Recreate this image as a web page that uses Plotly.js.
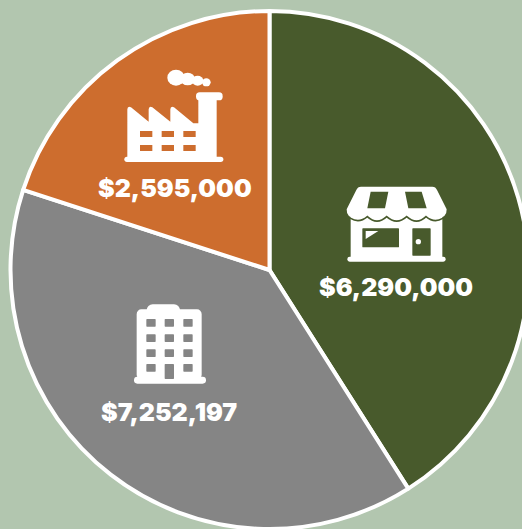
<!DOCTYPE html>
<html>
<head>
<meta charset="utf-8">
<script src="https://cdn.plot.ly/plotly-3.0.1.min.js"></script>
<style>html,body{margin:0;padding:0;width:522px;height:529px;overflow:hidden;background:#B2C6AF}</style>
</head>
<body>
<div id="chart"></div>
<script>
// Slice shares as drawn in the picture (percent of the circle), clockwise from 12 o'clock
const categories = ["Retail", "Office", "Industrial"];
const sliceShares = [41.0, 39.0, 20.0];
const amountLabels = ["$6,290,000", "$7,252,197", "$2,595,000"];
const sliceColors = ["#485A2C", "#858585", "#CD6D2E"];

const W = 540, H = 529;
const BG = "#B2C6AF";
const fx = p => p / W, fy = p => 1 - p / H;

function svg(w, h, body) {
  const s = `<svg xmlns="http://www.w3.org/2000/svg" viewBox="0 0 ${w} ${h}" width="${w}" height="${h}">${body}</svg>`;
  return "data:image/svg+xml;charset=utf-8," + encodeURIComponent(s);
}
const storeIcon = svg(375, 270, (() => {
  const G = sliceColors[0];
  return `<path fill="#fff" d="M78,35 H292 Q302,35 306,45 L335,103 Q336,130 305,130 Q285,130 275,122 Q245,146 215,122 Q185,146 155,122 Q126,146 97,122 Q85,130 64,130 Q34,130 35,103 L64,45 Q68,35 78,35Z"/>
  <path fill="#fff" d="M47,118 H322 V248 H47Z"/>
  <rect x="37" y="245" width="295" height="15" rx="7" fill="#fff"/>
  <path fill="${G}" d="M107,50 H160 L150,100 H97Z M210,50 H260 L275,100 H220Z"/>
  <path fill="none" stroke="${G}" stroke-width="5" stroke-linecap="round" d="M47,130 Q72,146 97,125 Q126,152 155,125 Q185,152 215,125 Q245,152 273,125 Q298,146 323,130"/>
  <rect x="82" y="160" width="110" height="57" rx="2" fill="${G}"/>
  <path fill="#fff" d="M92,168 H130 L92,192Z"/>
  <rect x="232" y="160" width="55" height="82" rx="2" fill="${G}"/>
  <circle cx="250" cy="200" r="8" fill="#fff"/>`;
})());
const factoryIcon = svg(360, 330, (() => {
  const O = sliceColors[2];
  const wins = [75, 140, 205].flatMap(x => [213, 255].map(y => `<rect x="${x}" y="${y}" width="37" height="18" fill="${O}"/>`)).join("");
  return `<g fill="#fff"><ellipse cx="183" cy="53" rx="26" ry="24"/><ellipse cx="218" cy="57" rx="22" ry="19"/><ellipse cx="248" cy="62" rx="17" ry="15"/><ellipse cx="274" cy="67" rx="13" ry="12"/>
  <path d="M37,295 V148 Q38,136 48,142 L101,185 V148 Q102,136 112,142 L166,185 V148 Q167,136 177,142 L235,190 H250 V115 H305 V295Z"/>
  <rect x="243" y="97" width="80" height="24" rx="11"/>
  <rect x="28" y="290" width="297" height="16" rx="8"/></g>${wins}`;
})());
const buildingIcon = svg(270, 285, (() => {
  const g = sliceColors[1];
  const wins = [64, 119, 175].flatMap(x => [72, 118, 163, 207].map(y =>
    (x === 119 && y === 207)
      ? `<rect x="${x}" y="${y}" width="28" height="45" rx="2" fill="${g}"/>`
      : `<rect x="${x}" y="${y}" width="28" height="23" rx="2" fill="${g}"/>`)).join("");
  return `<g fill="#fff"><rect x="65" y="28" width="100" height="40" rx="18"/><rect x="35" y="43" width="195" height="210" rx="14"/><rect x="27" y="245" width="216" height="21" rx="10"/></g>${wins}`;
})());

const iconImages = [
  {source: storeIcon, x: 335, y: 175, w: 125, h: 90},
  {source: factoryIcon, x: 115, y: 60, w: 120, h: 110},
  {source: buildingIcon, x: 125, y: 295, w: 90, h: 95}
];
const labelCenters = [[395.5, 287], [169, 412], [174.5, 188]];

Plotly.newPlot("chart", [{
  type: "pie",
  labels: categories,
  values: sliceShares,
  sort: false,
  direction: "clockwise",
  rotation: 0,
  textinfo: "none",
  hoverinfo: "none",
  marker: {colors: sliceColors, line: {color: "#FFFFFF", width: 4}},
  domain: {x: [fx(10.5), fx(528.5)], y: [0, fy(11)]}
}], {
  width: W, height: H,
  margin: {l: 0, r: 0, t: 0, b: 0},
  paper_bgcolor: BG,
  plot_bgcolor: BG,
  showlegend: false,
  images: iconImages.map(i => ({
    source: i.source, xref: "paper", yref: "paper",
    x: fx(i.x), y: fy(i.y), sizex: i.w / W, sizey: i.h / H,
    xanchor: "left", yanchor: "top", sizing: "stretch", layer: "above"
  })),
  annotations: amountLabels.map((t, k) => ({
    text: t, xref: "paper", yref: "paper",
    x: fx(labelCenters[k][0]), y: fy(labelCenters[k][1]),
    xanchor: "center", yanchor: "middle", showarrow: false,
    font: {family: "Inter, Roboto, sans-serif", size: 25, color: "#FFFFFF", weight: 900}
  }))
}, {displayModeBar: false, staticPlot: true});
</script>
</body>
</html>
